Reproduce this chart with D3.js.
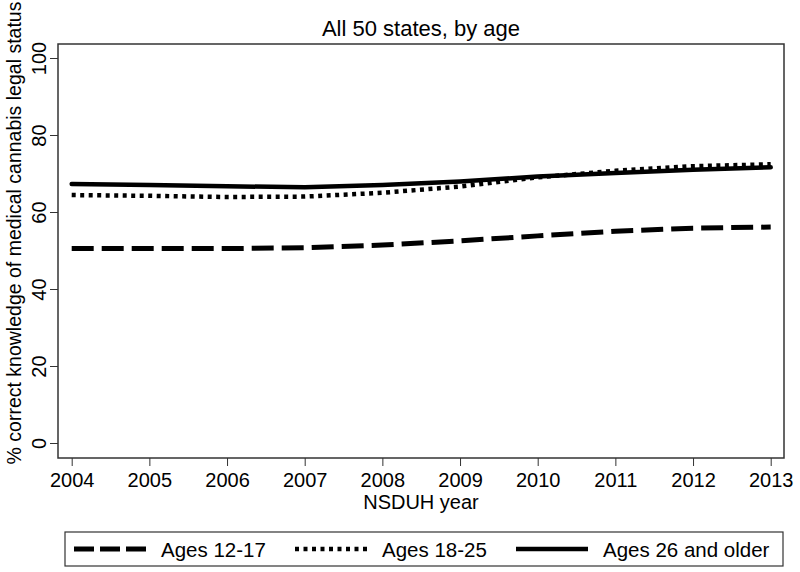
<!DOCTYPE html>
<html lang="en">
    <head>
        <meta charset="UTF-8">
        <title>All 50 states, by age</title>
        <style>
            body { margin: 0; background: #fff; }
            svg { font-family: "Liberation Sans", Arial, sans-serif; }
            .tick text { font-size: 20px; fill: #000; }
            .line { fill: none; stroke: #000; stroke-linejoin: round; }
        </style>
    </head>
    <body>
        <script src="https://d3js.org/d3.v7.min.js"></script>
        <script>
            const years = [2004, 2005, 2006, 2007, 2008, 2009, 2010, 2011, 2012, 2013];
            const ages1217 = [50.5, 50.5, 50.5, 50.7, 51.4, 52.5, 53.8, 55.0, 55.8, 56.1];
            const ages1825 = [64.4, 64.2, 63.9, 64.0, 65.0, 66.6, 69.0, 70.7, 71.9, 72.4];
            const ages26up = [67.3, 67.0, 66.7, 66.4, 67.0, 67.9, 69.2, 70.1, 71.0, 71.6];
            const yTicks = [0, 20, 40, 60, 80, 100];
            const seriesNames = ["Ages 12-17", "Ages 18-25", "Ages 26 and older"];

            const width = 800, height = 572;
            const frame = { left: 58, right: 784, top: 44, bottom: 458 };

            const svg = d3.select("body").append("svg")
                .attr("width", width)
                .attr("height", height);

            const x = d3.scaleLinear().domain([2004, 2013]).range([71.7, 770.7]);
            const y = d3.scaleLinear().domain([0, 100]).range([443, 58]);

            // plot frame
            svg.append("rect")
                .attr("x", frame.left).attr("y", frame.top)
                .attr("width", frame.right - frame.left)
                .attr("height", frame.bottom - frame.top)
                .attr("fill", "none").attr("stroke", "#333").attr("stroke-width", 1.5);

            // x axis
            const xAxis = svg.append("g")
                .attr("transform", `translate(0,${frame.bottom})`)
                .call(d3.axisBottom(x).tickValues(years).tickFormat(d3.format("d")).tickSize(8).tickPadding(0));
            xAxis.select(".domain").remove();
            xAxis.selectAll("line").attr("stroke", "#333");
            xAxis.selectAll(".tick text").attr("dy", 0).attr("y", 29);

            // y axis with rotated labels
            const yAxis = svg.append("g")
                .attr("transform", `translate(${frame.left},0)`)
                .call(d3.axisLeft(y).tickValues(yTicks).tickSize(8));
            yAxis.select(".domain").remove();
            yAxis.selectAll("line").attr("stroke", "#333");
            yAxis.selectAll(".tick text")
                .attr("x", 0).attr("dy", 0)
                .attr("transform", "translate(-12,0) rotate(-90)")
                .attr("text-anchor", "middle");

            // titles
            svg.append("text")
                .attr("x", (frame.left + frame.right) / 2).attr("y", 36)
                .attr("text-anchor", "middle").attr("font-size", 22)
                .text("All 50 states, by age");

            svg.append("text")
                .attr("x", (frame.left + frame.right) / 2).attr("y", 509)
                .attr("text-anchor", "middle").attr("font-size", 20)
                .text("NSDUH year");

            svg.append("text")
                .attr("transform", `translate(21,${(frame.top + frame.bottom) / 2 - 18}) rotate(-90)`)
                .attr("text-anchor", "middle").attr("font-size", 19.5)
                .text("% correct knowledge of medical cannabis legal status");

            const styles = [
                { dash: "22,8", cap: "butt", w: 5 },
                { dash: "4,4.5", cap: "butt", w: 4.5 },
                { dash: null, cap: "round", w: 4.5 }
            ];
            const allSeries = [ages1217, ages1825, ages26up];

            const line = d3.line()
                .x((d, i) => x(years[i]))
                .y(d => y(d));

            allSeries.forEach((s, k) => {
                svg.append("path")
                    .datum(s)
                    .attr("class", "line")
                    .attr("stroke-width", styles[k].w)
                    .attr("stroke-linecap", styles[k].cap)
                    .attr("stroke-dasharray", styles[k].dash)
                    .attr("d", line);
            });

            // legend
            const legend = svg.append("g");
            legend.append("rect")
                .attr("x", 65).attr("y", 532).attr("width", 718).attr("height", 34)
                .attr("fill", "none").attr("stroke", "#333").attr("stroke-width", 1.2);

            const legendX = [74, 295, 516];
            seriesNames.forEach((name, k) => {
                legend.append("line")
                    .attr("x1", legendX[k]).attr("x2", legendX[k] + 72)
                    .attr("y1", 549).attr("y2", 549)
                    .attr("stroke", "#000")
                    .attr("stroke-width", styles[k].w)
                    .attr("stroke-dasharray", k === 0 ? "20,6" : styles[k].dash);
                legend.append("text")
                    .attr("x", legendX[k] + 87).attr("y", 557)
                    .attr("font-size", 20.5)
                    .text(name);
            });
        </script>
    </body>
</html>
